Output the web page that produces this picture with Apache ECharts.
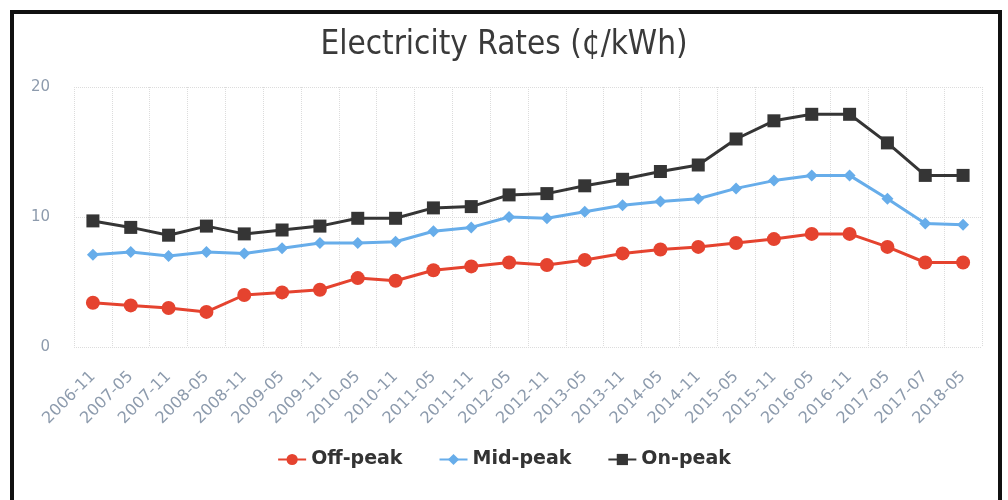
<!DOCTYPE html>
<html>
<head>
<meta charset="utf-8">
<script src="https://cdn.jsdelivr.net/npm/echarts@6/dist/echarts.min.js"></script>
<style>
  body { margin: 0; background: #fff; }
  #wrap { position: relative; width: 1008px; height: 500px; }
  #chart { width: 1008px; height: 500px; }
  #frame {
    position: absolute; left: 10px; top: 10px; width: 984px; height: 500px;
    border: 4px solid #111; border-bottom: none; pointer-events: none;
  }
</style>
</head>
<body>
<div id="wrap">
  <div id="chart"></div>
  <div id="frame"></div>
</div>
<script>
const periods = [
  "2006-11", "2007-05", "2007-11", "2008-05", "2008-11", "2009-05",
  "2009-11", "2010-05", "2010-11", "2011-05", "2011-11", "2012-05",
  "2012-11", "2013-05", "2013-11", "2014-05", "2014-11", "2015-05",
  "2015-11", "2016-05", "2016-11", "2017-05", "2017-07", "2018-05"
];
const offPeak = [3.4, 3.2, 3.0, 2.7, 4.0, 4.2, 4.4, 5.3, 5.1, 5.9, 6.2, 6.5,
  6.3, 6.7, 7.2, 7.5, 7.7, 8.0, 8.3, 8.7, 8.7, 7.7, 6.5, 6.5];
const midPeak = [7.1, 7.3, 7.0, 7.3, 7.2, 7.6, 8.0, 8.0, 8.1, 8.9, 9.2, 10.0,
  9.9, 10.4, 10.9, 11.2, 11.4, 12.2, 12.8, 13.2, 13.2, 11.4, 9.5, 9.4];
const onPeak = [9.7, 9.2, 8.6, 9.3, 8.7, 9.0, 9.3, 9.9, 9.9, 10.7, 10.8, 11.7,
  11.8, 12.4, 12.9, 13.5, 14.0, 16.0, 17.4, 17.9, 17.9, 15.7, 13.2, 13.2];

const chart = echarts.init(document.getElementById("chart"));
const labelColor = "#8d9bad";
const gridLine = { show: true, lineStyle: { type: "dotted", color: "#dcdcdc" } };

chart.setOption({
  textStyle: { fontFamily: "DejaVu Sans" },
  title: {
    text: "Electricity Rates (¢/kWh)",
    left: "center",
    top: 24,
    textStyle: { fontSize: 33, fontWeight: "normal", color: "#3a3a3a", fontFamily: "DejaVu Sans Condensed" }
  },
  legend: {
    bottom: 26,
    left: "center",
    itemWidth: 28,
    itemHeight: 14,
    itemGap: 36,
    textStyle: { fontSize: 19, fontWeight: "bold", color: "#333" }
  },
  grid: { left: 74, right: 26, top: 87, bottom: 153 },
  xAxis: {
    type: "category",
    data: periods,
    boundaryGap: true,
    axisLine: { show: false },
    axisTick: { show: false },
    axisLabel: { rotate: 45, fontSize: 16, color: labelColor, margin: 27, interval: 0 },
    splitLine: gridLine
  },
  yAxis: {
    type: "value",
    min: 0,
    max: 20,
    interval: 10,
    axisLine: { show: false },
    axisTick: { show: false },
    axisLabel: { fontSize: 15, color: labelColor, margin: 24 },
    splitLine: gridLine
  },
  series: [
    {
      name: "Off-peak", type: "line", data: offPeak,
      symbol: "circle", symbolSize: 14,
      itemStyle: { color: "#e5432f" },
      lineStyle: { width: 3 }
    },
    {
      name: "Mid-peak", type: "line", data: midPeak,
      symbol: "diamond", symbolSize: 12,
      itemStyle: { color: "#67adea" },
      lineStyle: { width: 3 }
    },
    {
      name: "On-peak", type: "line", data: onPeak,
      symbol: "rect", symbolSize: 13,
      itemStyle: { color: "#353535" },
      lineStyle: { width: 3 }
    }
  ]
});
</script>
</body>
</html>
